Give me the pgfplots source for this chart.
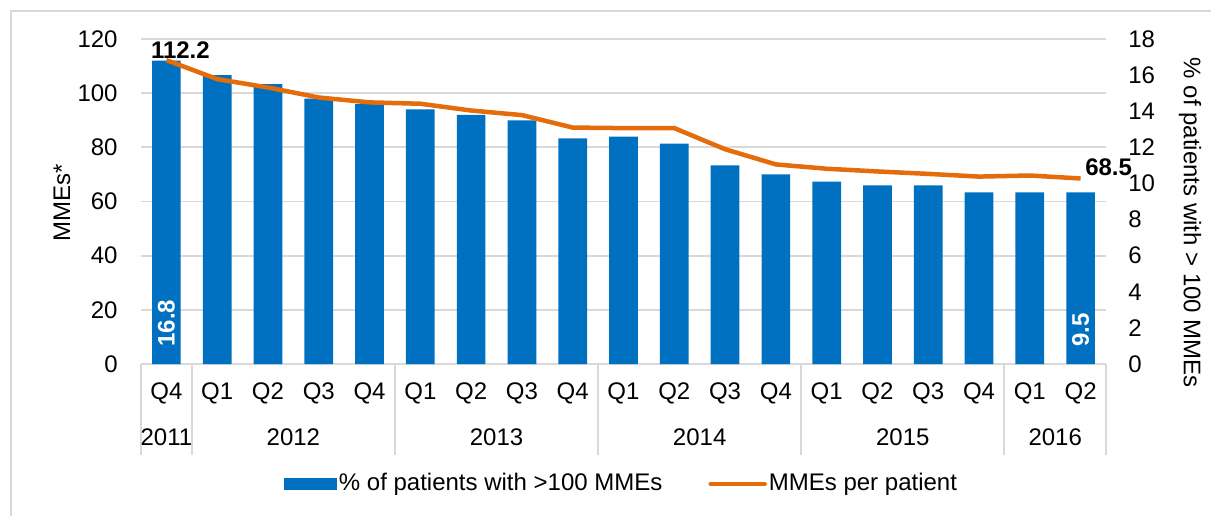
\documentclass[border=0pt,12pt]{standalone}
\usepackage{pgfplots}
\pgfplotsset{compat=1.18}
\usepackage{fontspec}
\setmainfont{Liberation Sans}

\definecolor{barblue}{RGB}{0,112,192}
\definecolor{lineorange}{RGB}{228,108,10}
\definecolor{gridgray}{RGB}{217,217,217}

\pgfplotsset{
  common/.style={
    width=482.5pt, height=162.5pt, scale only axis,
    xmin=-0.5, xmax=18.5,
    clip=false,
    tick style={draw=none},
    /pgf/number format/assume math mode=true,
  }
}

\begin{document}
\begin{tikzpicture}
\useasboundingbox (-70.5pt,-76pt) rectangle (535pt,182pt);
\draw[gridgray, line width=1pt] (-65pt,-76pt) -- (-65pt,176.5pt) -- (535pt,176.5pt);

% left scale: grid, ticks, quarter labels
\begin{axis}[common,
    ymin=0, ymax=120, ytick={0,20,...,120},
    ymajorgrids, grid style={gridgray, line width=0.9pt},
    axis x line*=bottom, axis y line*=left,
    x axis line style={gridgray, line width=1pt, -},
    y axis line style={draw=none},
    yticklabel style={xshift=-7.5pt},
    xtick={0,...,18},
    xticklabels={Q4,Q1,Q2,Q3,Q4,Q1,Q2,Q3,Q4,Q1,Q2,Q3,Q4,Q1,Q2,Q3,Q4,Q1,Q2},
    xticklabel style={yshift=-5pt},
]
\foreach \xb in {-0.5,0.5,4.5,8.5,12.5,16.5,18.5}{
  \edef\tmp{\noexpand\draw[gridgray, line width=1pt] (axis cs:\xb,0) -- ([yshift=-45.5pt]axis cs:\xb,0);}
  \tmp
}
\node at ([yshift=-36.5pt]axis cs:0,0) {2011};
\node at ([yshift=-36.5pt]axis cs:2.5,0) {2012};
\node at ([yshift=-36.5pt]axis cs:6.5,0) {2013};
\node at ([yshift=-36.5pt]axis cs:10.5,0) {2014};
\node at ([yshift=-36.5pt]axis cs:14.5,0) {2015};
\node at ([yshift=-36.5pt]axis cs:17.5,0) {2016};
\node[rotate=90] at (axis description cs:-0.082,0.495) {MMEs*};
\end{axis}

% right scale: bars
\begin{axis}[common,
    ymin=0, ymax=18, ytick={0,2,...,18},
    axis x line=none, axis y line*=right,
    y axis line style={draw=none},
    yticklabel style={xshift=7pt},
]
\addplot[ybar, bar width=0.565, fill=barblue, draw=none] coordinates {
(0,16.8)(1,16.0)(2,15.5)(3,14.7)(4,14.4)(5,14.1)(6,13.8)(7,13.5)(8,12.5)(9,12.6)
(10,12.2)(11,11.0)(12,10.5)(13,10.1)(14,9.9)(15,9.9)(16,9.5)(17,9.5)(18,9.5)
};
\node[rotate=90, anchor=west, white, font=\bfseries, inner sep=0pt] at ([yshift=8.5pt]axis cs:0,0) {16.8};
\node[rotate=90, anchor=west, white, font=\bfseries, inner sep=0pt] at ([yshift=8.5pt]axis cs:18,0) {9.5};
\node[rotate=-90] at (axis description cs:1.087,0.434) {\% of patients with > 100 MMEs};
\end{axis}

% left scale: line + legend
\begin{axis}[common,
    ymin=0, ymax=120,
    hide axis,
    legend style={at={(0.498,-0.369)}, anchor=center, draw=none, fill=none,
      legend columns=2,
      /tikz/every even column/.append style={column sep=22pt},
      nodes={inner sep=1pt}},
]
\addlegendimage{legend image code/.code={\fill[barblue] (0pt,-2.7pt) rectangle (26pt,2.7pt);}}
\addlegendentry{\% of patients with >100 MMEs}
\addplot[lineorange, line width=2.25pt, line join=round, mark=none,
  legend image code/.code={\draw[lineorange, line width=2.25pt, line cap=round] (0pt,0pt) -- (27pt,0pt);}]
  coordinates {
(0,112.2)(1,105.2)(2,102.1)(3,98.4)(4,96.6)(5,96.1)(6,93.6)(7,91.9)(8,87.3)(9,87.1)
(10,87.1)(11,79.3)(12,73.7)(13,72.1)(14,71.1)(15,70.2)(16,69.2)(17,69.6)(18,68.5)
};
\addlegendentry{MMEs per patient}
\node[font=\bfseries] at ([xshift=7pt, yshift=5pt]axis cs:0,112.2) {112.2};
\node[font=\bfseries] at ([xshift=14pt, yshift=5.5pt]axis cs:18,68.5) {68.5};
\end{axis}
\end{tikzpicture}
\end{document}
